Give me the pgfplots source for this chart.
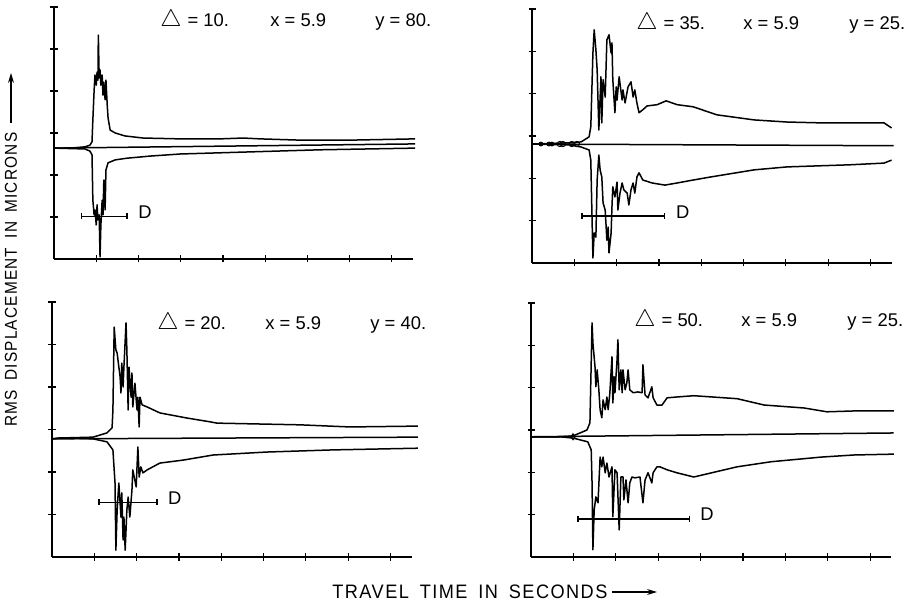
\documentclass[border=0pt]{standalone}
\usepackage{fontspec}
\setmainfont{Liberation Sans}
\newfontfamily\labfont[LetterSpace=8]{Liberation Sans}
\usepackage{graphicx}
\usepackage{pgfplots}
\pgfplotsset{compat=1.18}
\usetikzlibrary{arrows.meta}
\newcommand\pf{\fontsize{9.2bp}{10bp}\selectfont}
\newcommand\tri{{\fontsize{13bp}{13bp}\selectfont$\bigtriangleup$}\hspace{3bp}}
\pgfplotsset{
 panel/.style={scale only axis, anchor=south west, xmin=0, xmax=8.5, ymin=0, ymax=6,
  axis x line*=bottom, axis y line*=left, axis line style={black, line width=0.65bp},
  xtick={1,...,8}, ytick={1,...,6}, xticklabels={}, yticklabels={},
  tick align=center, major tick length=3.5bp, tick style={black, line width=0.6bp},
  clip=false},
 env/.style={black, line width=0.75bp, line join=round, no marks},
 dbar/.style={black, line width=0.6bp, mark=|, mark size=1.6bp, mark options={line width=0.6bp, solid}},
}
\begin{document}
\begin{tikzpicture}
\path[use as bounding box] (0,0) rectangle (454bp,301.5bp);

% ---------- Panel 1 : Delta = 10 ----------
\begin{axis}[panel, at={(27bp,172bp)}, width=179.5bp, height=126bp]
\addplot[env] coordinates {(0,2.64) (8.55,2.74)};
\addplot[env] coordinates {(0,2.64) (0.38,2.64) (0.73,2.67) (0.85,2.71) (0.90,2.79) (0.92,3.31) (0.95,4.02) (0.97,4.38) (1.00,4.14) (1.02,4.45) (1.04,4.26) (1.05,5.33) (1.07,4.31) (1.09,4.50) (1.11,4.14) (1.14,4.38) (1.16,3.90) (1.18,4.21) (1.21,3.79) (1.23,4.26) (1.26,3.67) (1.28,3.36) (1.33,3.07) (1.45,3.00) (1.68,2.93) (2.11,2.88) (2.99,2.86) (3.93,2.86) (4.48,2.88) (4.88,2.86) (5.83,2.83) (7.01,2.83) (8.55,2.86)};
\addplot[env] coordinates {(0,2.64) (0.73,2.62) (0.85,2.57) (0.90,2.48) (0.92,1.40) (0.95,1.05) (0.97,1.17) (1.00,0.81) (1.02,1.29) (1.04,0.93) (1.07,1.05) (1.09,0.05) (1.11,0.81) (1.14,1.40) (1.16,1.05) (1.18,1.88) (1.21,1.17) (1.23,2.12) (1.28,2.29) (1.45,2.36) (1.73,2.40) (2.27,2.45) (2.99,2.50) (4.64,2.55) (6.30,2.60) (8.55,2.64)};
\addplot[dbar] coordinates {(0.66,1.02) (1.73,1.02)} node[pos=1, anchor=base west, xshift=2bp, yshift=-1bp, font=\pf] {D};
\end{axis}

% ---------- Panel 2 : Delta = 35 ----------
\begin{axis}[panel, at={(266bp,170bp)}, width=179.8bp, height=127bp]
\addplot[env] coordinates {(0,2.81) (8.55,2.77)};
\addplot[env] coordinates {(0,2.81) (0.90,2.84) (1.16,2.86) (1.35,2.98) (1.39,3.22) (1.44,4.96) (1.47,5.51) (1.51,5.04) (1.54,4.56) (1.58,3.14) (1.63,4.40) (1.65,3.31) (1.68,4.33) (1.73,3.92) (1.77,5.27) (1.82,5.39) (1.87,4.96) (1.89,5.20) (1.91,4.33) (1.96,3.55) (1.99,4.16) (2.01,3.85) (2.06,4.40) (2.13,3.85) (2.15,4.09) (2.20,3.78) (2.27,4.16) (2.34,4.28) (2.39,3.92) (2.43,4.09) (2.48,3.78) (2.53,3.55) (2.62,3.62) (2.72,3.71) (2.96,3.74) (3.17,3.83) (3.43,3.74) (3.81,3.69) (4.37,3.50) (5.25,3.38) (6.03,3.33) (6.83,3.31) (8.32,3.31) (8.50,3.19)};
\addplot[env] coordinates {(0,2.81) (0.90,2.79) (1.16,2.74) (1.35,2.67) (1.39,2.43) (1.42,1.02) (1.44,0.12) (1.47,0.71) (1.51,0.61) (1.54,1.96) (1.58,2.55) (1.61,2.20) (1.65,2.03) (1.68,1.42) (1.73,1.25) (1.77,0.54) (1.80,0.85) (1.82,0.24) (1.87,0.71) (1.89,1.32) (1.91,1.80) (1.96,1.56) (2.01,1.91) (2.03,1.25) (2.08,1.65) (2.13,1.89) (2.17,1.73) (2.25,1.65) (2.29,1.37) (2.34,1.73) (2.39,1.89) (2.43,1.65) (2.48,2.03) (2.53,2.13) (2.62,1.96) (2.84,1.89) (3.14,1.84) (3.43,1.89) (3.81,1.96) (4.21,2.03) (5.25,2.20) (6.03,2.27) (7.52,2.32) (8.32,2.36) (8.50,2.43)};
\addplot[only marks, mark=*, mark size=1bp, black] coordinates {(0.21,2.81) (0.40,2.81) (0.47,2.81)};
\addplot[only marks, mark=o, mark size=1.3bp, black, mark options={line width=0.5bp}] coordinates {(0.66,2.81) (0.73,2.81) (0.94,2.81) (1.06,2.81)};
\addplot[dbar] coordinates {(1.18,1.11) (3.14,1.11)} node[pos=1, anchor=base west, xshift=2bp, yshift=-1bp, font=\pf] {D};
\end{axis}

% ---------- Panel 3 : Delta = 20 ----------
\begin{axis}[panel, at={(26bp,23bp)}, width=179.8bp, height=127.5bp]
\addplot[env] coordinates {(0,2.78) (8.65,2.82)};
\addplot[env] coordinates {(0,2.78) (0.19,2.80) (0.97,2.82) (1.30,2.92) (1.42,3.04) (1.44,3.46) (1.47,5.41) (1.51,4.87) (1.54,4.80) (1.58,4.47) (1.61,4.24) (1.63,3.86) (1.65,4.56) (1.68,4.00) (1.70,4.47) (1.75,5.51) (1.77,4.87) (1.80,3.46) (1.82,4.47) (1.87,3.76) (1.89,4.33) (1.91,3.53) (1.96,4.09) (2.01,3.46) (2.03,3.76) (2.06,3.06) (2.08,3.76) (2.13,3.58) (2.25,3.53) (2.55,3.39) (3.19,3.27) (3.74,3.18) (3.90,3.15) (5.86,3.11) (7.04,3.06) (8.65,3.08)};
\addplot[env] coordinates {(0,2.78) (0.19,2.80) (0.97,2.78) (1.30,2.71) (1.44,2.52) (1.49,1.74) (1.51,0.16) (1.54,1.11) (1.58,1.74) (1.61,1.27) (1.63,0.94) (1.65,1.51) (1.68,0.40) (1.70,0.94) (1.73,0.16) (1.77,1.11) (1.80,1.41) (1.84,0.94) (1.89,1.58) (1.91,2.05) (1.99,1.65) (2.03,2.59) (2.06,1.88) (2.10,2.12) (2.15,1.98) (2.25,2.05) (2.55,2.21) (3.10,2.28) (3.81,2.40) (5.08,2.47) (6.64,2.52) (8.65,2.56)};
\addplot[dbar] coordinates {(1.11,1.29) (2.48,1.29)} node[pos=1, anchor=base west, xshift=2bp, yshift=-1bp, font=\pf] {D};
\end{axis}

% ---------- Panel 4 : Delta = 50 ----------
\begin{axis}[panel, at={(265.5bp,23bp)}, width=180.2bp, height=127bp]
\addplot[env] coordinates {(0,2.84) (8.55,2.93)};
\addplot[env] coordinates {(0,2.84) (0.68,2.84) (0.99,2.86) (1.32,3.00) (1.39,3.17) (1.44,5.53) (1.46,5.06) (1.51,4.49) (1.53,4.02) (1.56,4.42) (1.60,3.95) (1.63,3.48) (1.67,3.29) (1.70,3.71) (1.75,3.48) (1.79,3.78) (1.82,3.48) (1.86,3.88) (1.91,4.73) (1.93,3.64) (1.96,4.26) (1.98,3.88) (2.03,4.66) (2.05,5.13) (2.08,3.95) (2.12,4.42) (2.15,3.88) (2.17,4.42) (2.22,3.95) (2.26,4.11) (2.29,4.42) (2.33,3.95) (2.41,3.88) (2.52,3.90) (2.62,3.88) (2.64,4.54) (2.69,3.83) (2.76,3.76) (2.85,4.02) (2.88,3.76) (2.97,3.59) (3.09,3.59) (3.21,3.76) (3.44,3.78) (3.84,3.81) (4.86,3.74) (5.50,3.59) (6.44,3.52) (6.98,3.43) (7.62,3.45) (8.56,3.45)};
\addplot[env] coordinates {(0,2.84) (0.68,2.84) (0.99,2.81) (1.34,2.72) (1.42,2.53) (1.44,1.75) (1.46,0.17) (1.49,1.11) (1.53,1.42) (1.58,1.28) (1.63,2.36) (1.67,2.13) (1.70,2.36) (1.75,1.99) (1.79,2.22) (1.84,1.89) (1.91,2.13) (1.93,0.95) (1.98,2.06) (2.03,1.99) (2.08,0.64) (2.12,1.89) (2.17,1.89) (2.19,1.35) (2.24,1.82) (2.29,1.28) (2.33,1.75) (2.38,1.89) (2.45,1.87) (2.57,1.89) (2.64,1.28) (2.69,1.82) (2.76,1.99) (2.85,1.75) (2.88,1.99) (2.97,2.13) (3.04,2.13) (3.21,2.06) (3.44,1.99) (3.84,1.89) (4.86,2.13) (5.66,2.25) (6.84,2.36) (7.62,2.41) (8.56,2.43)};
\addplot[only marks, mark=diamond, mark size=1.5bp, black, mark options={line width=0.5bp}] coordinates {(0.99,2.84)};
\addplot[dbar] coordinates {(1.11,0.90) (3.73,0.90)} node[pos=1, anchor=base west, xshift=2bp, yshift=-1bp, font=\pf] {D};
\end{axis}

% ---------- panel captions ----------
\node[anchor=base west, inner sep=0, font=\pf] at (80bp,288bp) {\tri= 10.};
\node[anchor=base west, inner sep=0, font=\pf] at (135bp,288bp) {x = 5.9};
\node[anchor=base west, inner sep=0, font=\pf] at (187.5bp,288bp) {y = 80.};

\node[anchor=base west, inner sep=0, font=\pf] at (318bp,286.5bp) {\tri= 35.};
\node[anchor=base west, inner sep=0, font=\pf] at (371.5bp,286.5bp) {x = 5.9};
\node[anchor=base west, inner sep=0, font=\pf] at (424.5bp,286.5bp) {y = 25.};

\node[anchor=base west, inner sep=0, font=\pf] at (78.5bp,136.5bp) {\tri= 20.};
\node[anchor=base west, inner sep=0, font=\pf] at (132.5bp,136.5bp) {x = 5.9};
\node[anchor=base west, inner sep=0, font=\pf] at (185bp,136.5bp) {y = 40.};

\node[anchor=base west, inner sep=0, font=\pf] at (317bp,138bp) {\tri= 50.};
\node[anchor=base west, inner sep=0, font=\pf] at (370.5bp,138bp) {x = 5.9};
\node[anchor=base west, inner sep=0, font=\pf] at (423.5bp,138bp) {y = 25.};

% ---------- axis titles ----------
\node[rotate=90, anchor=west, inner sep=0] at (5.5bp,88bp)
  {\resizebox{147bp}{6bp}{\labfont RMS\hspace{0.6em}DISPLACEMENT\hspace{0.6em}IN\hspace{0.6em}MICRONS}};
\draw[line width=0.6bp, -{Stealth[length=5bp, width=3bp]}] (5.5bp,240bp) -- (5.5bp,265bp);
\node[anchor=west, inner sep=0] at (166bp,5.5bp)
  {\resizebox{137.5bp}{6.8bp}{\labfont TRAVEL\hspace{0.6em}TIME\hspace{0.6em}IN\hspace{0.6em}SECONDS}};
\draw[line width=0.6bp, -{Stealth[length=5bp, width=3bp]}] (306bp,5.5bp) -- (328.5bp,5.5bp);
\end{tikzpicture}
\end{document}
